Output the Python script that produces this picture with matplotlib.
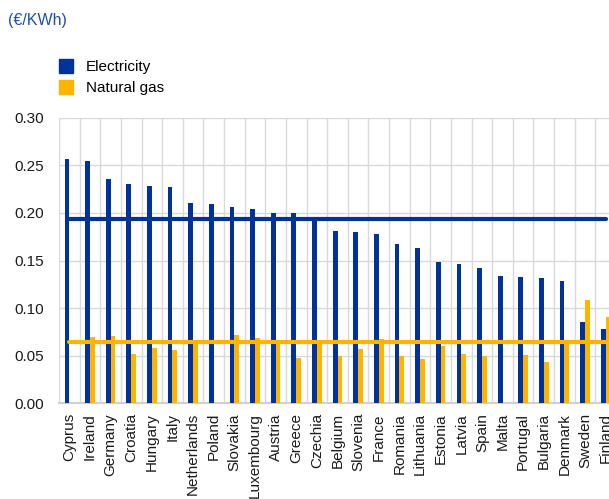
import numpy as np
import matplotlib
matplotlib.use("Agg")
import matplotlib.pyplot as plt
from matplotlib.lines import Line2D

plt.rcParams['font.family'] = ['Liberation Sans', 'DejaVu Sans']

countries = ['Cyprus', 'Ireland', 'Germany', 'Croatia', 'Hungary', 'Italy',
             'Netherlands', 'Poland', 'Slovakia', 'Luxembourg', 'Austria',
             'Greece', 'Czechia', 'Belgium', 'Slovenia', 'France', 'Romania',
             'Lithuania', 'Estonia', 'Latvia', 'Spain', 'Malta', 'Portugal',
             'Bulgaria', 'Denmark', 'Sweden', 'Finland']

electricity = [0.257, 0.255, 0.236, 0.230, 0.228, 0.227,
               0.210, 0.209, 0.206, 0.204, 0.200,
               0.200, 0.193, 0.181, 0.180, 0.178, 0.167,
               0.163, 0.148, 0.146, 0.142, 0.134, 0.133,
               0.132, 0.128, 0.085, 0.078]

natural_gas = [0.0, 0.070, 0.071, 0.052, 0.058, 0.056,
               0.063, 0.0, 0.072, 0.069, 0.063,
               0.048, 0.063, 0.050, 0.057, 0.068, 0.050,
               0.047, 0.060, 0.052, 0.050, 0.0, 0.051,
               0.043, 0.063, 0.109, 0.091]

# EU averages drawn as horizontal lines
electricity_avg = 0.194
natural_gas_avg = 0.064

yticks = [0.00, 0.05, 0.10, 0.15, 0.20, 0.25, 0.30]

blue = '#003299'
yellow = '#ffb400'
grid_col = '#d9d9d9'

fig = plt.figure(figsize=(6.09, 4.99), dpi=100)
ax = fig.add_axes([59 / 609, 95.7 / 499, 557 / 609, 285.6 / 499])

x = np.arange(len(countries))
w = 0.23
ax.bar(x - w / 2, electricity, w, color=blue, zorder=3)
ax.bar(x + w / 2, natural_gas, w, color=yellow, zorder=3)

ax.plot([0, len(countries) - 1], [electricity_avg] * 2, color=blue, lw=3,
        solid_capstyle='round', zorder=4)
ax.plot([0, len(countries) - 1], [natural_gas_avg] * 2, color=yellow, lw=3,
        solid_capstyle='round', zorder=5)

ax.set_xlim(-0.5, len(countries) - 0.5)
ax.set_ylim(0, 0.30)
ax.set_yticks(yticks)
ax.set_yticklabels(['%.2f' % v for v in yticks])
ax.set_xticks(x)
ax.set_xticklabels(countries, rotation=90)
ax.set_xticks(np.arange(-0.5, len(countries)), minor=True)

ax.grid(True, which='minor', axis='x', color=grid_col, lw=1, zorder=0)
ax.grid(True, which='major', axis='y', color=grid_col, lw=1, zorder=0)
ax.tick_params(axis='both', which='both', length=0, labelsize=11,
               labelcolor='#1a1a1a')
ax.tick_params(axis='y', pad=11)
ax.tick_params(axis='x', pad=7)
for s in ['top', 'right', 'left']:
    ax.spines[s].set_visible(False)
ax.spines['bottom'].set_color('#d0d0d0')
ax.spines['bottom'].set_linewidth(1.5)

fig.text(8 / 609, 1 - 21 / 499, '(\u20ac/KWh)', color='#1f4fa3', fontsize=11.5,
         va='center', ha='left')

handles = [Line2D([0], [0], marker='s', ls='none', color=blue, markersize=10),
           Line2D([0], [0], marker='s', ls='none', color=yellow, markersize=10)]
fig.legend(handles, ['Electricity', 'Natural gas'], loc='upper left',
           bbox_to_anchor=(58 / 609, 1 - 60 / 499), frameon=False,
           fontsize=11, handlelength=1.0, handletextpad=0.8,
           labelspacing=0.45, borderpad=0, borderaxespad=0)

fig.savefig('out.png', dpi=100)
